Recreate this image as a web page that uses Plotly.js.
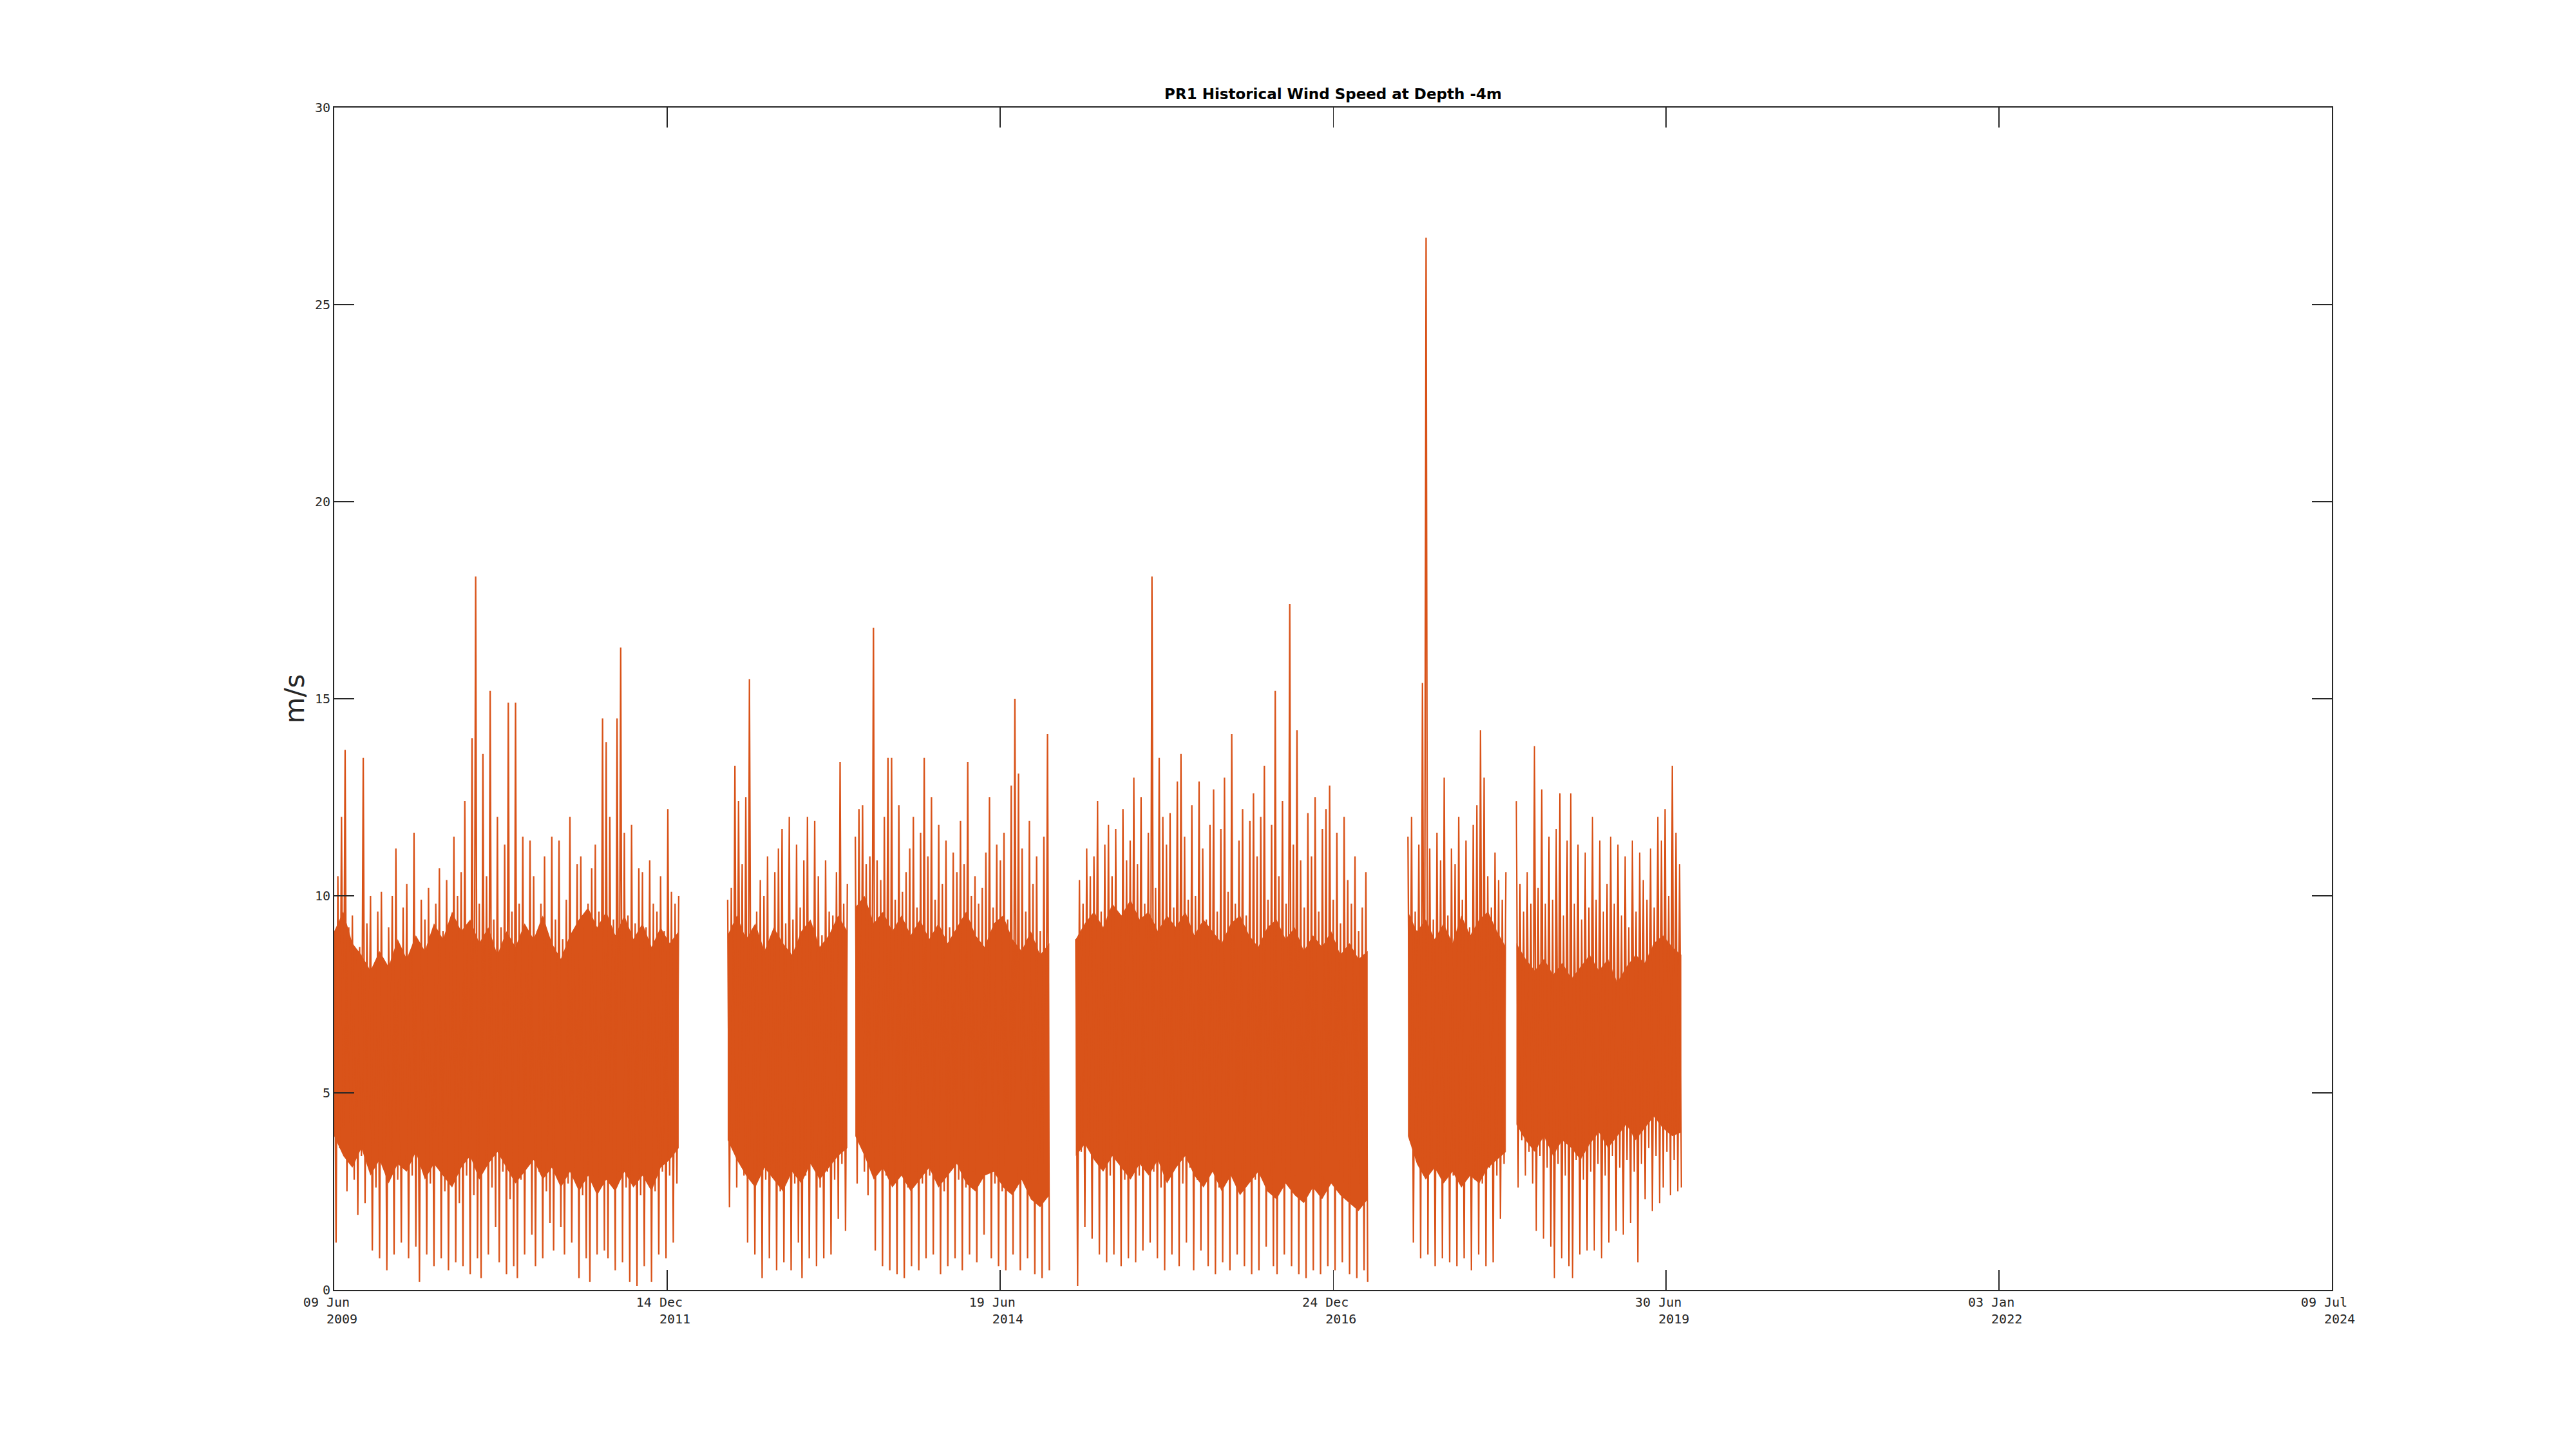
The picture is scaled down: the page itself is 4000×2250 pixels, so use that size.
<!DOCTYPE html>
<html>
<head>
<meta charset="utf-8">
<script src="https://cdn.plot.ly/plotly-3.0.1.min.js"></script>
<style>html,body{margin:0;padding:0;background:#fff;}#chart{width:4000px;height:2250px;}</style>
</head>
<body>
<div id="chart"></div>
<script>
// ---- data (wind speed, m/s) ----
// each segment: start date, values sampled every stepDays (alternating highs / lows of the trace)
const stepDays = 5;
const seg1Start = '2009-06-09';
const seg1Vals = [8.8,1.2,10.5,3.6,12.0,4.1,13.7,2.5,9.2,3.9,
9.5,2.8,8.4,1.9,8.7,3.4,13.5,2.2,9.3,4.2,
10.0,1.0,7.9,2.6,9.6,0.8,10.1,3.1,8.2,0.5,
9.2,3.5,10.0,0.9,11.2,2.8,8.3,1.2,9.7,3.3,
10.3,0.8,8.6,2.9,11.6,1.1,8.1,0.2,9.9,3.0,
9.4,0.9,10.2,2.7,8.0,0.6,9.8,3.4,10.7,0.8,
9.1,2.5,10.4,0.5,8.7,3.0,11.5,0.7,10.0,2.2,
10.6,0.6,12.4,2.9,9.3,0.4,14.0,2.4,18.1,0.8,
9.8,0.3,13.6,3.1,10.5,0.9,15.2,2.6,9.4,1.6,
12.0,0.7,9.2,3.0,11.3,0.4,14.9,2.3,9.6,0.6,
14.9,0.3,9.8,2.8,11.5,0.9,8.9,3.2,11.4,1.4,
10.5,0.6,9.1,3.0,9.8,0.8,11.0,2.5,8.8,1.7,
11.5,1.0,9.4,3.3,11.4,1.6,8.9,0.9,9.9,2.7,
12.0,1.2,9.0,3.1,10.8,0.3,11.0,2.4,9.2,0.8,
9.8,0.2,10.7,2.9,11.3,0.9,9.6,3.1,14.5,1.0,
13.9,0.8,12.0,2.7,9.4,0.5,14.5,3.0,16.3,0.7,
11.6,2.6,9.5,0.2,11.8,2.9,9.3,0.1,10.7,2.4,
10.6,0.6,9.2,3.1,10.9,0.2,9.8,2.5,9.6,0.9,
10.5,3.0,9.1,0.8,12.2,2.9,10.1,1.2,9.8,2.7,
10.0];
const seg2Start = '2012-05-29';
const seg2Vals = [9.9,2.1,10.2,3.7,13.3,2.6,12.4,4.0,10.8,2.9,
12.5,1.2,15.5,3.4,9.1,0.9,9.6,3.0,10.4,0.3,
10.0,2.8,11.0,0.8,8.9,3.2,10.6,0.5,11.2,2.5,
11.7,0.7,9.3,3.1,12.0,0.5,9.4,2.7,11.3,1.2,
9.7,0.3,10.9,2.9,12.0,0.8,9.2,3.3,11.9,0.6,
10.5,2.6,9.0,0.8,10.9,3.0,9.6,0.9,9.5,2.8,
10.6,1.8,13.4,3.2,9.8,1.5,10.3];
const seg3Start = '2013-05-16';
const seg3Vals = [11.5,2.7,12.2,4.1,12.3,3.0,10.8,2.4,11.0,3.6,
16.8,1.0,10.9,3.4,10.4,0.6,12.0,2.9,13.5,0.5,
13.5,2.8,9.9,0.4,12.3,3.2,10.1,0.3,10.6,2.6,
11.2,0.6,12.0,3.0,9.7,0.5,11.6,2.7,13.5,0.8,
11.0,2.9,12.5,0.9,9.9,3.3,11.8,0.4,10.3,2.5,
11.4,0.6,9.2,3.1,11.1,0.8,10.6,2.8,11.9,0.5,
10.8,2.6,13.4,0.9,10.0,3.0,10.5,0.7,9.8,2.9,
10.2,1.4,11.1,3.2,12.5,0.8,9.7,2.7,11.3,0.6,
10.9,2.5,11.6,0.5,9.4,3.0,12.8,0.9,15.0,2.6,
13.1,0.5,11.2,3.1,9.6,0.8,11.9,2.8,10.3,0.4,
11.0,2.7,9.1,0.3,11.5,3.0,14.1,0.5];
const seg4Start = '2015-01-14';
const seg4Vals = [8.9,0.1,10.4,3.5,9.8,1.6,11.2,3.9,10.5,1.3,
11.0,3.6,12.4,0.9,9.6,3.2,11.3,0.7,11.8,2.9,
10.5,0.9,11.7,3.4,9.2,0.6,12.2,2.8,10.9,0.8,
11.4,3.1,13.0,0.7,10.8,2.9,12.5,1.0,9.8,3.3,
11.6,1.2,18.1,3.0,10.2,0.8,13.5,2.6,12.0,0.5,
11.3,2.9,12.1,0.9,9.7,3.2,12.9,0.6,13.6,2.7,
11.5,1.2,9.9,3.1,12.3,0.5,10.0,2.8,12.9,1.0,
11.2,2.9,9.4,0.6,11.8,3.0,12.7,0.4,9.6,2.6,
11.7,0.7,13.0,3.2,10.1,0.5,14.1,2.9,9.8,0.9,
11.4,2.7,12.2,0.6,9.5,3.1,11.9,0.4,12.6,2.8,
11.0,0.5,12.0,3.0,13.3,1.1,9.9,2.9,11.8,0.6,
15.2,0.4,10.5,3.2,12.4,0.9,9.8,2.7,17.4,0.6,
11.3,2.9,14.2,0.4,10.9,3.0,9.7,0.3,12.1,2.6,
11.0,0.5,12.5,3.1,9.6,0.4,11.7,2.8,12.2,0.6,
12.8,2.9,9.9,0.5,11.6,3.0,9.3,0.7,12.0,2.5,
10.4,0.4,9.8,3.1,11.0,0.3,9.1,2.7,9.7,0.5,
10.6,0.2];
const seg5Start = '2017-07-18';
const seg5Vals = [11.5,3.8,12.0,1.2,9.6,3.4,11.3,0.8,15.4,2.9,
26.7,0.9,11.2,3.3,9.4,0.6,11.6,3.0,10.9,0.8,
13.0,3.1,9.5,0.7,11.2,2.9,10.8,0.6,12.0,3.2,
9.9,0.8,11.4,3.0,9.2,0.5,11.8,2.8,12.3,0.9,
14.2,2.7,13.0,0.6,10.5,3.1,9.7,0.7,11.1,2.9,
10.4,1.8,9.9,3.2,10.6];
const seg6Start = '2018-05-13';
const seg6Vals = [12.4,2.6,10.3,3.8,9.6,2.9,10.6,3.5,9.8,2.7,
13.8,1.5,10.2,3.4,12.7,1.3,9.8,3.1,11.5,1.1,
9.9,0.3,11.7,3.2,12.6,0.8,9.5,2.9,11.4,0.6,
12.6,0.3,9.8,3.3,11.3,0.9,9.4,2.8,11.1,1.0,
9.7,3.0,12.0,1.0,9.9,3.2,11.4,0.8,9.6,2.9,
10.3,1.2,11.5,3.4,9.8,1.5,11.3,3.1,9.5,1.4,
11.0,3.3,9.2,1.7,11.4,3.0,9.6,0.7,11.1,3.2,
10.4,2.3,9.9,3.6,11.2,2.0,9.7,3.4,12.0,2.2,
11.4,2.6,12.2,3.5,10.0,2.4,13.3,3.3,11.6,2.5,
10.8,2.6];

// dense core of each segment (where the hourly trace is solid), evenly spaced over the segment
const seg1CoreHi = [9.1,9.6,8.8,8.5,8.1,8.6,8.2,8.9,8.4,9.0,8.6,9.3,8.9,9.6,9.1,9.4,8.8,9.2,8.5,9.1,8.7,9.3,8.9,9.5,8.8,8.4,9.0,9.4,9.7,9.2,9.6,9.0,9.5,8.9,9.3,8.7,9.2,8.8,9.1];
const seg1CoreLo = [3.9,3.4,3.1,3.6,2.9,3.3,2.7,3.2,3.0,3.5,2.8,3.2,2.9,2.6,3.1,3.4,2.8,3.2,3.5,3.1,2.7,3.0,3.3,2.8,3.1,2.6,3.0,2.5,2.9,2.4,2.8,2.5,3.0,2.6,2.9,2.5,3.1,3.3,3.6];
const seg2CoreHi = [9.0,9.5,8.9,9.3,8.6,9.2,8.8,8.5,9.1,9.4,8.7,9.0,9.5,9.1];
const seg2CoreLo = [3.8,3.3,2.9,2.6,3.1,2.8,2.5,3.0,2.7,3.2,2.8,3.1,3.4,3.6];
const seg3CoreHi = [9.7,10.0,9.3,9.6,9.1,9.5,9.0,9.4,8.9,9.3,8.8,9.2,9.6,9.0,8.7,9.3,9.5,8.9,8.6,9.1,8.5,8.8];
const seg3CoreLo = [3.9,3.4,2.8,3.1,2.6,2.9,2.5,2.8,3.1,2.6,2.9,3.2,2.7,2.5,2.9,3.0,2.6,2.4,2.8,2.3,2.1,2.4];
const seg4CoreHi = [8.9,9.3,9.6,9.2,9.8,9.5,9.9,9.4,9.6,9.1,9.5,9.2,9.6,9.0,9.4,9.1,8.8,9.3,9.5,9.0,8.7,9.2,9.4,8.9,9.2,8.6,9.0,8.7,9.1,8.5,8.8,8.4,8.6];
const seg4CoreLo = [3.4,3.7,3.3,3.0,3.4,3.1,2.8,3.2,2.9,3.3,2.7,3.1,3.4,2.9,2.6,3.0,2.5,2.9,2.4,2.7,3.0,2.5,2.3,2.7,2.4,2.2,2.6,2.3,2.7,2.4,2.2,2.0,2.3];
const seg5CoreHi = [9.6,9.1,9.4,8.9,9.3,8.8,9.5,9.0,9.4,9.6,9.1,8.7];
const seg5CoreLo = [3.9,3.2,2.8,3.1,2.7,3.0,2.6,2.9,2.7,3.1,3.3,3.5];
const seg6CoreHi = [8.8,8.4,8.1,8.4,8.0,8.3,7.9,8.2,8.5,8.1,8.4,7.8,8.2,8.5,8.3,8.8,9.0,8.7,8.5];
const seg6CoreLo = [4.2,3.8,3.5,3.9,3.4,3.8,3.6,3.3,3.7,4.0,3.6,3.9,4.2,3.8,4.1,4.4,4.1,3.9,4.0];

const segments = [
  {start: seg1Start, vals: seg1Vals, hi: seg1CoreHi, lo: seg1CoreLo},
  {start: seg2Start, vals: seg2Vals, hi: seg2CoreHi, lo: seg2CoreLo},
  {start: seg3Start, vals: seg3Vals, hi: seg3CoreHi, lo: seg3CoreLo},
  {start: seg4Start, vals: seg4Vals, hi: seg4CoreHi, lo: seg4CoreLo},
  {start: seg5Start, vals: seg5Vals, hi: seg5CoreHi, lo: seg5CoreLo},
  {start: seg6Start, vals: seg6Vals, hi: seg6CoreHi, lo: seg6CoreLo}
];

// axis ticks
const xRange = ['2009-06-09', '2024-07-09'];
const xTickVals = ['2009-06-09','2011-12-14','2014-06-19','2016-12-24','2019-06-30','2022-01-03','2024-07-09'];
const xTickDay = ['09 Jun','14 Dec','19 Jun','24 Dec','30 Jun','03 Jan','09 Jul'];
const xTickYear = ['2009','2011','2014','2016','2019','2022','2024'];
const yTickVals = [0,5,10,15,20,25,30];

// ---- build traces ----
const COLOR = '#D95319';
const DAY = 86400000;
const iso = t => new Date(t).toISOString();
const xs = [], ys = [];
const bandTraces = [];
segments.forEach((s, k) => {
  const t0 = Date.parse(s.start + 'T00:00:00Z');
  s.vals.forEach((v, i) => { xs.push(iso(t0 + i * stepDays * DAY)); ys.push(v); });
  if (k < segments.length - 1) { xs.push(iso(t0 + s.vals.length * stepDays * DAY)); ys.push(null); }
  // core band polygon
  const dur = (s.vals.length - 1) * stepDays * DAY;
  const n = s.hi.length;
  const bx = [], by = [];
  for (let i = 0; i < n; i++) { bx.push(iso(t0 + dur * i / (n - 1))); by.push(s.hi[i]); }
  for (let i = n - 1; i >= 0; i--) { bx.push(iso(t0 + dur * i / (n - 1))); by.push(s.lo[i]); }
  bandTraces.push({
    x: bx, y: by, type: 'scatter', mode: 'lines', fill: 'toself',
    fillcolor: COLOR, line: {color: COLOR, width: 0}, hoverinfo: 'skip'
  });
});

const NB = '\u00a0';
const xTickText = xTickDay.map((d, i) => d + NB + NB + '<br>' + NB + NB + NB + xTickYear[i] + NB);

const axisColor = '#262626';
const tickFont = {family: 'DejaVu Sans Mono', size: 20, color: axisColor};

const lineTrace = {
  x: xs, y: ys, type: 'scatter', mode: 'lines',
  line: {color: COLOR, width: 2.3},
  connectgaps: false, hoverinfo: 'skip'
};

const layout = {
  width: 4000, height: 2250,
  paper_bgcolor: '#ffffff', plot_bgcolor: '#ffffff',
  margin: {l: 519, r: 379, t: 167, b: 247, pad: 0},
  showlegend: false,
  title: {
    text: '<b>PR1 Historical Wind Speed at Depth -4m</b>',
    font: {family: 'DejaVu Sans', size: 23, color: '#000000'},
    x: 0.5, xref: 'paper', xanchor: 'center',
    y: 1 - 146/2250, yref: 'container', yanchor: 'middle'
  },
  xaxis: {
    type: 'date', range: xRange, autorange: false,
    tickmode: 'array', tickvals: xTickVals, ticktext: xTickText,
    ticks: 'inside', ticklen: 31, tickwidth: 1.5, tickcolor: axisColor,
    showline: true, linecolor: axisColor, linewidth: 2, mirror: 'ticks',
    showgrid: false, zeroline: false,
    tickfont: tickFont, tickangle: 0
  },
  yaxis: {
    range: [0, 30], autorange: false,
    tickmode: 'array', tickvals: yTickVals, ticktext: yTickVals.map(String),
    ticks: 'inside', ticklen: 31, tickwidth: 1.5, tickcolor: axisColor,
    showline: true, linecolor: axisColor, linewidth: 2, mirror: 'ticks',
    showgrid: false, zeroline: false,
    tickfont: tickFont,
    title: {text: 'm/s', font: {family: 'DejaVu Sans', size: 42, color: axisColor}, standoff: 3}
  }
};

Plotly.newPlot('chart', bandTraces.concat([lineTrace]), layout, {staticPlot: true, displayModeBar: false});
</script>
</body>
</html>
